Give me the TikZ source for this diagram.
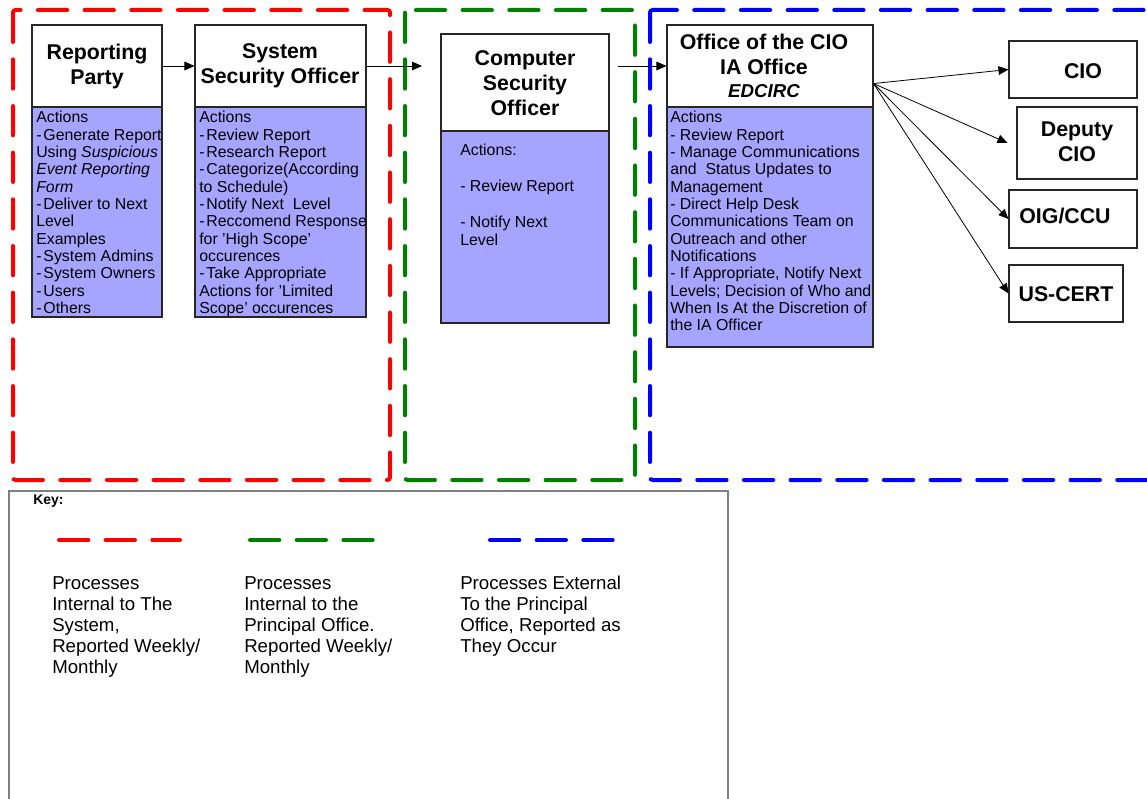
\documentclass[tikz,border=0pt]{standalone}
\usepackage{fontspec}
\setmainfont{Liberation Sans}
\usetikzlibrary{arrows.meta,fit}
\definecolor{bodyfill}{RGB}{165,165,255}
\definecolor{kred}{RGB}{255,0,0}
\definecolor{kgreen}{RGB}{0,128,0}
\definecolor{kblue}{RGB}{0,0,255}
\begin{document}
\begin{tikzpicture}[x=0.75pt,y=-0.75pt,
 box/.style={draw=black!85,line width=0.8pt,inner sep=0pt},
 bodybox/.style={box,fill=bodyfill},
 head/.style={font=\fontsize{16}{18.75}\selectfont\bfseries,align=center,inner sep=0pt},
 bodytext/.style={font=\fontsize{11.9}{13}\selectfont,align=left,anchor=north west,inner sep=0pt},
 keytext/.style={font=\fontsize{14}{15.75}\selectfont,align=left,anchor=north west,inner sep=0pt},
 zone/.style={line width=3pt,dash pattern=on 22pt off 13pt,line cap=round,rounded corners=2pt},
 arr/.style={-{Triangle[length=7.5pt,width=6.5pt]},line width=0.6pt}
]
\clip (0,0) rectangle (1147,799);
% zones
\draw[zone,kred] (13,10) rectangle (390,480);
\draw[zone,kgreen] (405,10) rectangle (635,480);
\draw[zone,kblue] (650,10) rectangle (1200,480);
% boxes
\node[box,fit={(32,25)(162,107)}] (rpH) {};
\node[bodybox,fit={(32,107)(162,317)}] (rpB) {};
\node[box,fit={(195,25)(366,107)}] (ssoH) {};
\node[bodybox,fit={(195,107)(366,317)}] (ssoB) {};
\node[box,fit={(441,34)(609,131)}] (csoH) {};
\node[bodybox,fit={(441,131)(609,323)}] (csoB) {};
\node[box,fit={(667,25)(873,107)}] (ioH) {};
\node[bodybox,fit={(667,107)(873,347)}] (ioB) {};
\node[box,fit={(1009,41)(1137,98)}] (cio) {};
\node[box,fit={(1017,107)(1137,179)}] (dep) {};
\node[box,fit={(1009,190)(1137,248)}] (oig) {};
\node[box,fit={(1009,265)(1123,322)}] (usc) {};
% header texts
\node[head] (rpT) at (97,66) {Reporting\\Party};
\node[head] (ssoT) at (280,66) {System\\Security Officer};
\node[head] (csoT) at (525,83) {Computer\\Security\\Officer};
\node[head] (ioT) at (764,66) {Office of the CIO\\IA Office\\[-1pt]{\fontsize{14}{16}\selectfont\itshape EDCIRC}};
\node[head] (cioT) at (1083,71) {CIO};
\node[head] (depT) at (1077,142) {Deputy\\CIO};
\node[head] (oigT) at (1065,216) {OIG/CCU};
\node[head] (uscT) at (1066,294) {US-CERT};
% body texts
\node[bodytext] (rpX) at (36,111) {Actions\\
-\hspace{0.12em}Generate Report\\
Using \textit{Suspicious}\\
\textit{Event Reporting}\\
\textit{Form}\\
-\hspace{0.12em}Deliver to Next\\
Level\\
Examples\\
-\hspace{0.12em}System Admins\\
-\hspace{0.12em}System Owners\\
-\hspace{0.12em}Users\\
-\hspace{0.12em}Others};
\node[bodytext] (ssoX) at (199,111) {Actions\\
-\hspace{0.12em}Review Report\\
-\hspace{0.12em}Research Report\\
-\hspace{0.12em}Categorize(According\\
to Schedule)\\
-\hspace{0.12em}Notify Next\ \ Level\\
-\hspace{0.12em}Reccomend Response\\
for 'High Scope'\\
occurences\\
-\hspace{0.12em}Take Appropriate\\
Actions for 'Limited\\
Scope' occurences};
\node[bodytext,font=\fontsize{11.9}{13.5}\selectfont] (csoX) at (460,144) {Actions:\\[13.5pt]
- Review Report\\[13.5pt]
- Notify Next\\
Level};
\node[bodytext] (ioX) at (670,111) {Actions\\
- Review Report\\
- Manage Communications\\
and\ \ Status Updates to\\
Management\\
- Direct Help Desk\\
Communications Team on\\
Outreach and other\\
Notifications\\
- If Appropriate, Notify Next\\
Levels; Decision of Who and\\
When Is At the Discretion of\\
the IA Officer};
% connectors
\coordinate (c1) at (422,66);
\coordinate (c2) at (618,66);
\draw[arr] (rpH) -- (ssoH);
\draw[arr] (ssoH.east) -- (c1);
\draw[arr] (c2) -- (ioH.west);
\coordinate (src) at ([yshift=18pt]ioH.south east);
\draw[arr] (src) -- (cio.west);
\draw[arr] (src) -- ([xshift=-6.75pt]dep.west);
\draw[arr] (src) -- (oig.west);
\draw[arr] (src) -- (usc.west);
% key
\node[draw=black!50,line width=1.2pt,inner sep=0pt,fit={(9,491)(728,830)}] (keybox) {};
\node[font=\fontsize{10.5}{12}\selectfont\bfseries,anchor=west,inner sep=0pt] (keyT) at (33,501) {Key:};
\coordinate (kr1) at (59,540); \coordinate (kr2) at (180,540);
\coordinate (kg1) at (250,540); \coordinate (kg2) at (373,540);
\coordinate (kb1) at (490,540); \coordinate (kb2) at (613,540);
\draw[zone,kred] (kr1) -- (kr2);
\draw[zone,kgreen] (kg1) -- (kg2);
\draw[zone,kblue] (kb1) -- (kb2);
\node[keytext] (k1) at (52,576) {Processes\\Internal to The\\System,\\Reported Weekly/\\Monthly};
\node[keytext] (k2) at (244,576) {Processes\\Internal to the\\Principal Office.\\Reported Weekly/\\Monthly};
\node[keytext] (k3) at (460,576) {Processes External\\To the Principal\\Office, Reported as\\They Occur};
\end{tikzpicture}
\end{document}
